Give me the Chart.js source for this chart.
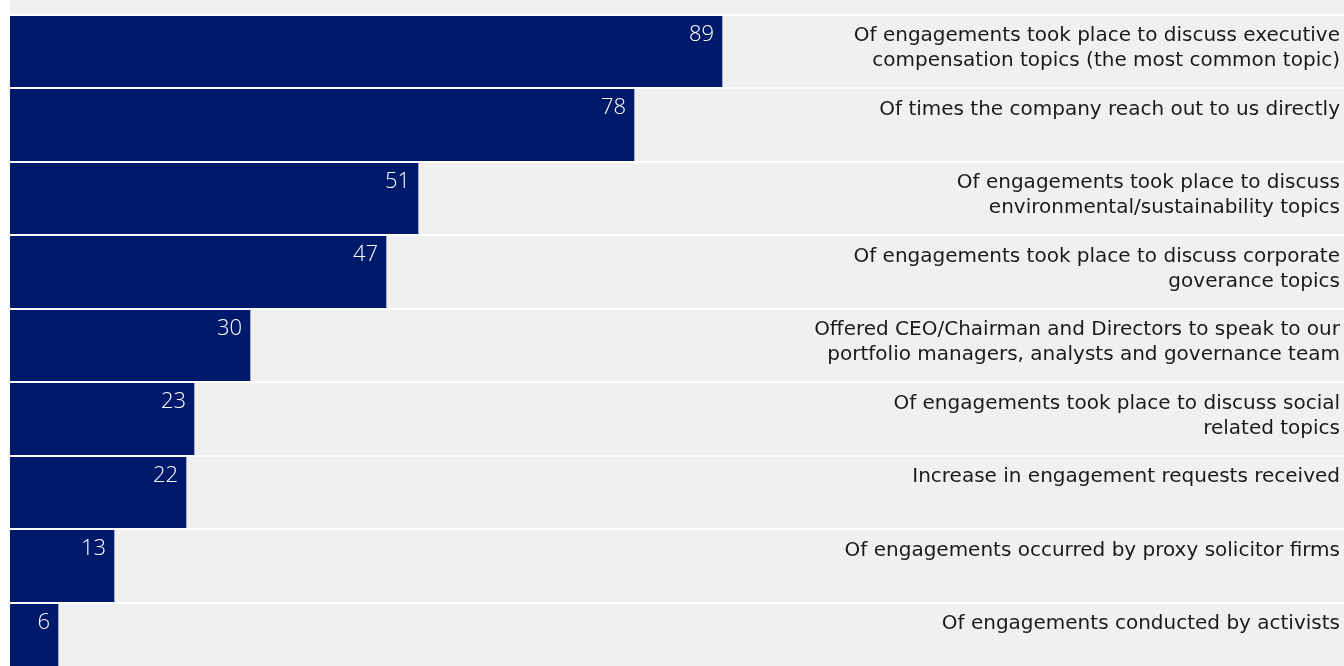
<!DOCTYPE html>
<html>
<head>
<meta charset="utf-8">
<script src="https://cdn.jsdelivr.net/npm/chart.js@4/dist/chart.umd.min.js"></script>
<style>
  html, body { margin: 0; padding: 0; background: #ffffff; }
  .chart-box {
    position: absolute; left: 10px; top: 0;
    width: 1334px; height: 666px;
    overflow: hidden; background: #f0f0f0;
  }
  .chart-inner { position: relative; width: 1334px; height: 676px; }
</style>
</head>
<body>
<div class="chart-box">
  <div class="chart-inner"><canvas id="chart-engage"></canvas></div>
</div>
<script>
// 항목 설명 (줄 단위)
const descLabels = [
    ["Of engagements took place to discuss executive", "compensation topics (the most common topic)"],
    ["Of times the company reach out to us directly"],
    ["Of engagements took place to discuss", "environmental/sustainability topics"],
    ["Of engagements took place to discuss corporate", "goverance topics"],
    ["Offered CEO/Chairman and Directors to speak to our", "portfolio managers, analysts and governance team"],
    ["Of engagements took place to discuss social", "related topics"],
    ["Increase in engagement requests received"],
    ["Of engagements occurred by proxy solicitor firms"],
    ["Of engagements conducted by activists"]
];

// 값
const engageValues = [89, 78, 51, 47, 30, 23, 22, 13, 6];

const xMax = 166.75;

// 값 라벨 + 설명 텍스트 그리기
const textPlugin = {
    id: 'rowText',
    afterDraw(chart) {
        const ctx = chart.ctx;
        const area = chart.chartArea;
        const meta = chart.getDatasetMeta(0);
        ctx.save();
        meta.data.forEach((bar, i) => {
            const top = bar.y - bar.height / 2;
            // 값
            ctx.fillStyle = '#ffffff';
            ctx.font = '300 22px "Open Sans"';
            ctx.textAlign = 'right';
            ctx.textBaseline = 'middle';
            ctx.fillText(engageValues[i], bar.x - 8, top + 20);
            // 설명
            ctx.fillStyle = '#1a1a1a';
            ctx.font = '20px "DejaVu Sans"';
            descLabels[i].forEach((line, j) => {
                ctx.fillText(line, area.right - 4, top + 21.5 + j * 25);
            });
        });
        ctx.restore();
    }
};

const chartEngage = new Chart(document.getElementById('chart-engage'), {
    type: 'bar',
    data: {
        labels: descLabels.map(l => l.join(' ')),
        datasets: [{
            data: engageValues,
            backgroundColor: '#001a6b',
            borderWidth: 0,
            barPercentage: 1,
            categoryPercentage: 1
        }]
    },
    plugins: [textPlugin],
    options: {
        indexAxis: 'y',
        responsive: true,
        maintainAspectRatio: false,
        animation: false,
        layout: { padding: { top: 14.5, left: 0, right: 0, bottom: 0 } },
        scales: {
            x: {
                display: false,
                min: 0,
                max: xMax
            },
            y: {
                ticks: { display: false },
                border: { display: false },
                grid: {
                    z: 1,
                    color: '#ffffff',
                    lineWidth: 2,
                    drawTicks: false
                },
                afterFit: function (axis) { axis.width = 0; }
            }
        },
        plugins: {
            legend: { display: false },
            tooltip: { enabled: false }
        }
    }
});
</script>
</body>
</html>
